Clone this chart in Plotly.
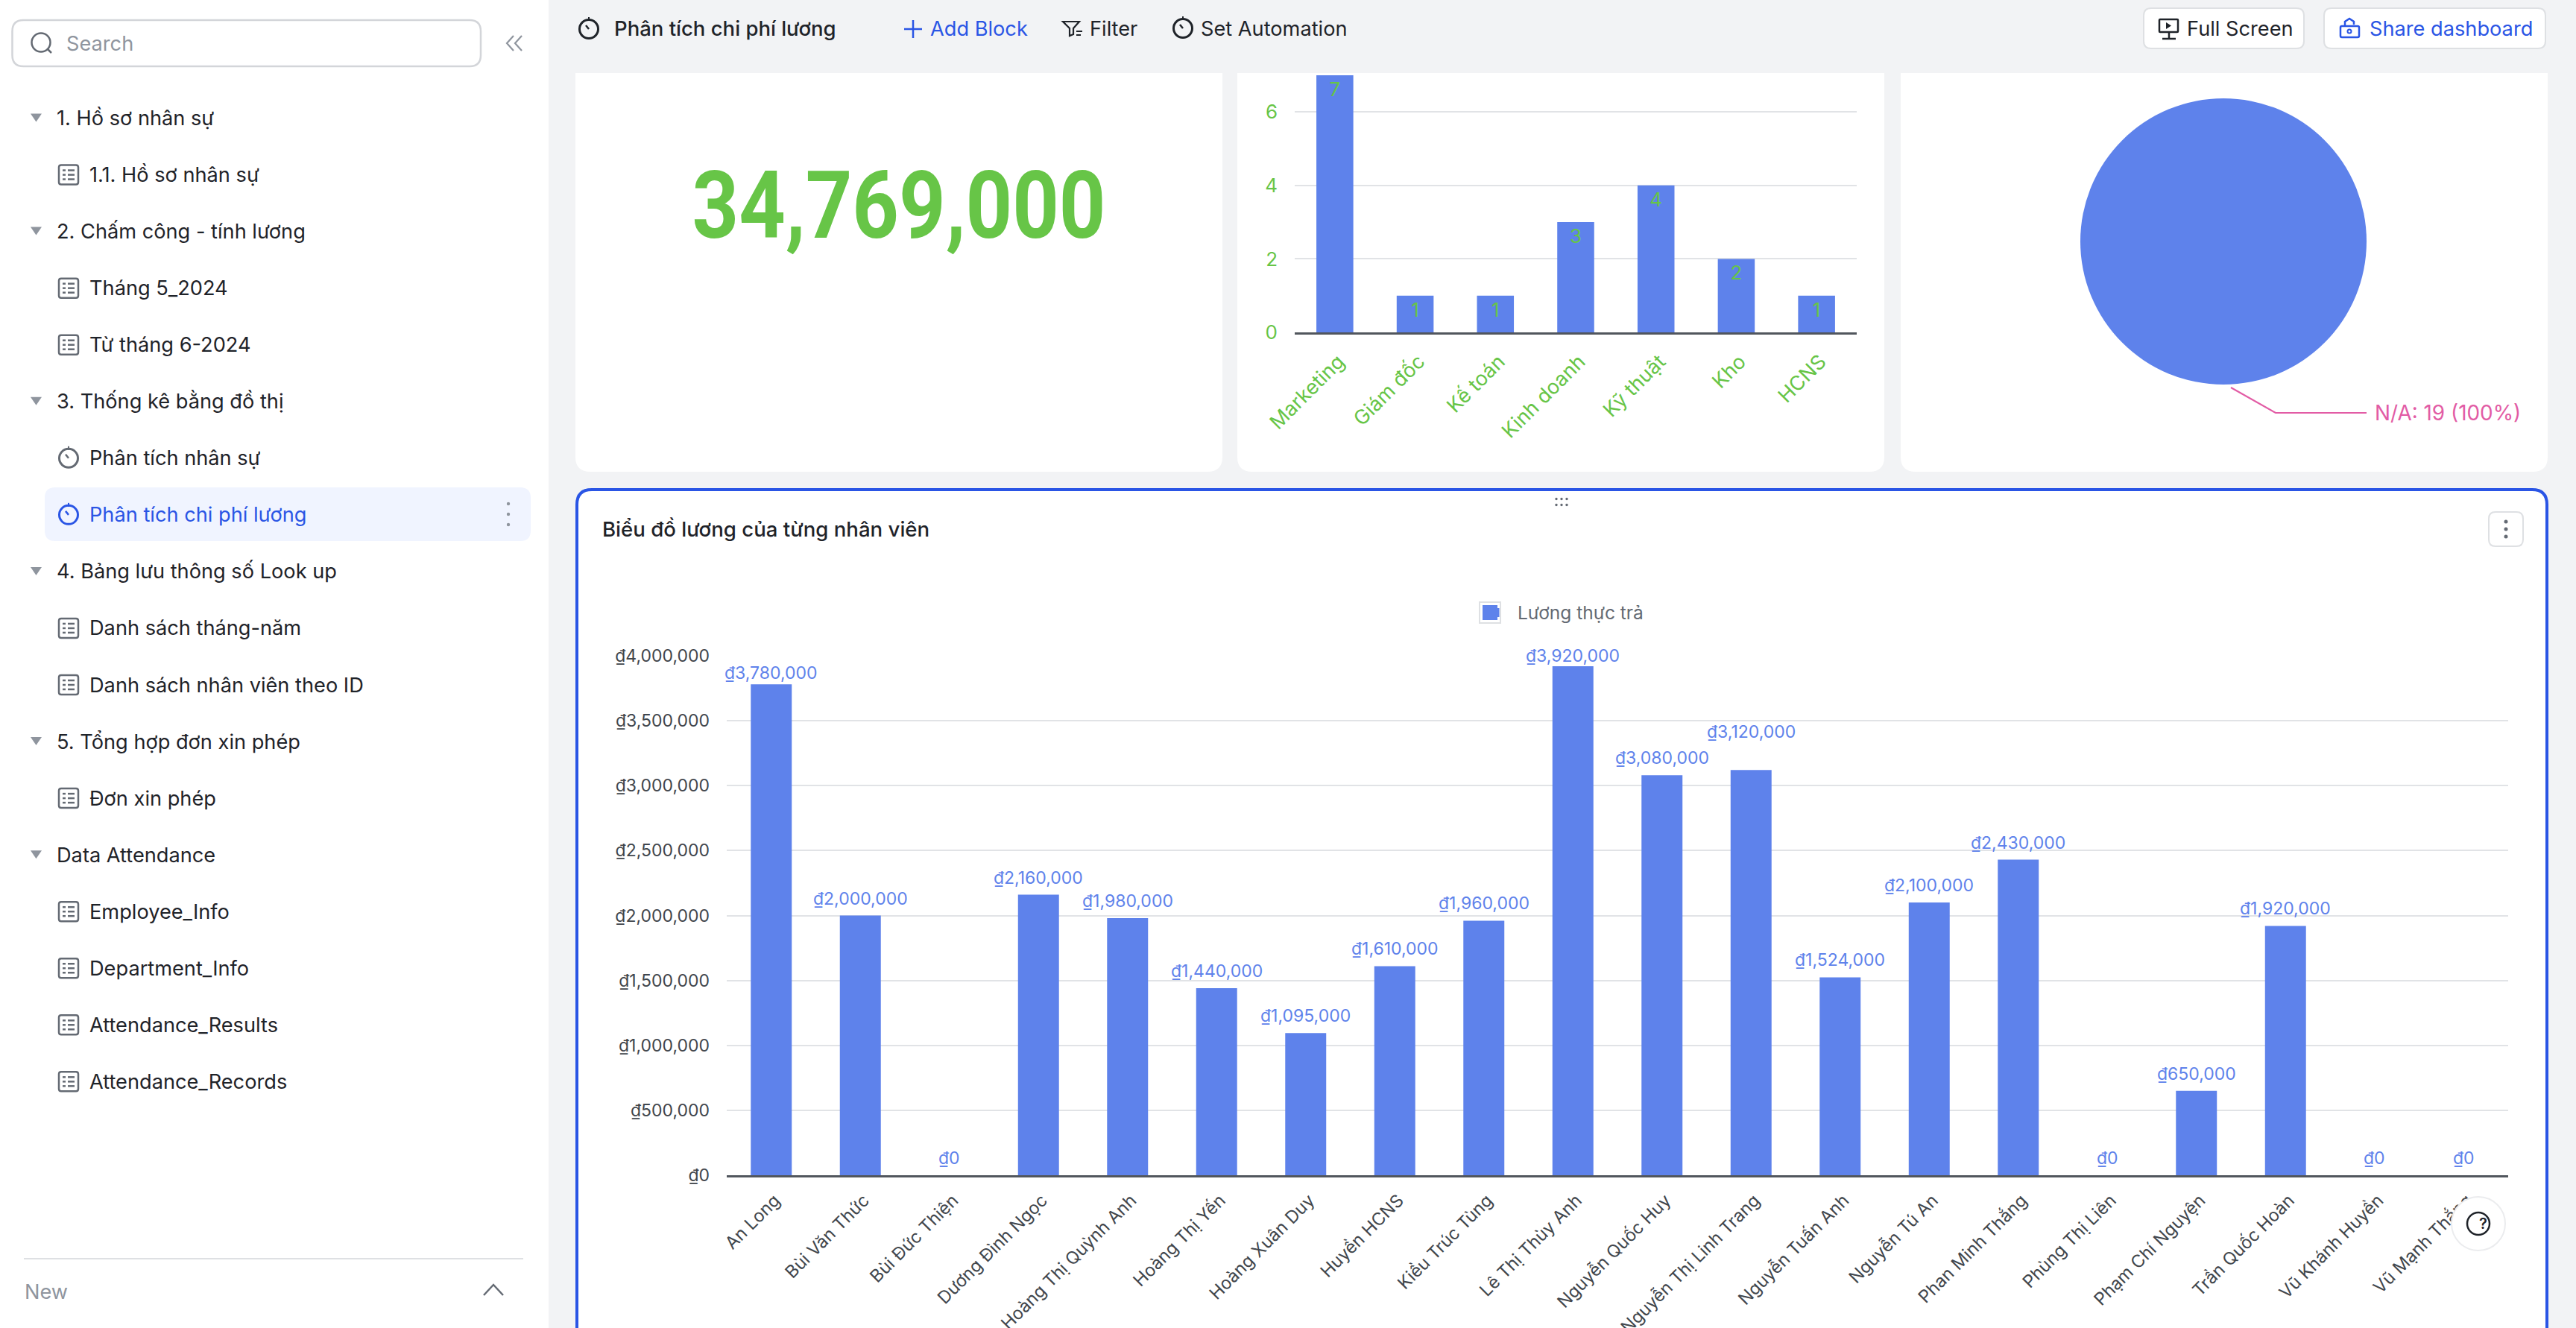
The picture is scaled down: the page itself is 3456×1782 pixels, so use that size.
import plotly.graph_objects as go

W = 3456
H = 1782

# ---- data ----
total_salary = 34769000

dept_names = ["Marketing", "Giám đốc", "Kế toán", "Kinh doanh", "Kỹ thuật", "Kho", "HCNS"]
dept_counts = [7, 1, 1, 3, 4, 2, 1]

pie_labels = ["N/A"]
pie_values = [19]
pie_percent = [100]

series_name = "Lương thực trả"
employees = ["An Long", "Bùi Văn Thức", "Bùi Đức Thiện", "Dương Đình Ngọc", "Hoàng Thị Quỳnh Anh",
             "Hoàng Thị Yến", "Hoàng Xuân Duy", "Huyền HCNS", "Kiều Trúc Tùng", "Lê Thị Thùy Anh",
             "Nguyễn Quốc Huy", "Nguyễn Thị Linh Trang", "Nguyễn Tuấn Anh", "Nguyễn Tú An",
             "Phan Minh Thắng", "Phùng Thị Liên", "Phạm Chí Nguyện", "Trần Quốc Hoàn",
             "Vũ Khánh Huyền", "Vũ Mạnh Thắng"]
salaries = [3780000, 2000000, 0, 2160000, 1980000, 1440000, 1095000, 1610000, 1960000, 3920000,
            3080000, 3120000, 1524000, 2100000, 2430000, 0, 650000, 1920000, 0, 0]

# sidebar rows: (text, kind)
sidebar_rows = [("1. Hồ sơ nhân sự", "group"), ("1.1. Hồ sơ nhân sự", "table"),
                ("2. Chấm công - tính lương", "group"), ("Tháng 5_2024", "table"),
                ("Từ tháng 6-2024", "table"), ("3. Thống kê bằng đồ thị", "group"),
                ("Phân tích nhân sự", "clock"), ("Phân tích chi phí lương", "active"),
                ("4. Bảng lưu thông số Look up", "group"), ("Danh sách tháng-năm", "table"),
                ("Danh sách nhân viên theo ID", "table"), ("5. Tổng hợp đơn xin phép", "group"),
                ("Đơn xin phép", "table"), ("Data Attendance", "group"), ("Employee_Info", "table"),
                ("Department_Info", "table"), ("Attendance_Results", "table"),
                ("Attendance_Records", "table")]

FONT = "Inter, 'Noto Sans', sans-serif"
BLUE = "#5E82EB"
ACCENT = "#2A55E5"
GREEN = "#67C547"
PINK = "#E25CA5"
INK = "#1F2329"
GRAY = "#8F959E"
ICON = "#646A73"
GRID = "#E1E3E6"
AXIS = "#51565D"
UI_SIZE = 27.2


def fx(x):
    return x / W


def fy(y):
    return 1 - y / H


shapes = []
annotations = []


def path(points, color=None, width=2.5, fill=None, close=False, layer="below"):
    d = "M" + " L".join(f"{fx(x):.5f},{fy(y):.5f}" for x, y in points)
    if close:
        d += " Z"
    shapes.append(dict(type="path", path=d, xref="paper", yref="paper", layer=layer,
                       line=dict(color=color or "rgba(0,0,0,0)", width=width if color else 0),
                       fillcolor=fill or "rgba(0,0,0,0)"))


def box(x0, y0, x1, y1, r=0, fill=None, color=None, width=2, top=True, layer="below"):
    # rounded rectangle in page pixels, top=False leaves the upper corners square
    rt = r if top else 0
    P = lambda x, y: f"{fx(x):.5f},{fy(y):.5f}"
    d = (f"M{P(x0 + rt, y0)} L{P(x1 - rt, y0)} Q{P(x1, y0)} {P(x1, y0 + rt)} "
         f"L{P(x1, y1 - r)} Q{P(x1, y1)} {P(x1 - r, y1)} L{P(x0 + r, y1)} Q{P(x0, y1)} {P(x0, y1 - r)} "
         f"L{P(x0, y0 + rt)} Q{P(x0, y0)} {P(x0 + rt, y0)} Z")
    shapes.append(dict(type="path", path=d, xref="paper", yref="paper", layer=layer,
                       line=dict(color=color or "rgba(0,0,0,0)", width=width if color else 0),
                       fillcolor=fill or "rgba(0,0,0,0)"))


def circle(cx, cy, r, fill=None, color=None, width=2.5, layer="below"):
    shapes.append(dict(type="circle", xref="paper", yref="paper", layer=layer,
                       x0=fx(cx - r), x1=fx(cx + r), y0=fy(cy + r), y1=fy(cy - r),
                       line=dict(color=color or "rgba(0,0,0,0)", width=width if color else 0),
                       fillcolor=fill or "rgba(0,0,0,0)"))


def label(x, y, text, size=UI_SIZE, color=INK, anchor="left", weight=400, family=FONT):
    annotations.append(dict(x=fx(x), y=fy(y), xref="paper", yref="paper", text=text, showarrow=False,
                            xanchor=anchor, yanchor="middle", borderpad=0,
                            font=dict(family=family, size=size, color=color, weight=weight)))


def table_icon(cx, cy):
    box(cx - 13, cy - 13, cx + 13, cy + 13, r=3, color=ICON, width=2.5)
    for dy in (-6, 0, 6):
        path([(cx - 8, cy + dy), (cx - 4, cy + dy)], color=ICON, width=2.5)
        path([(cx - 1, cy + dy), (cx + 8, cy + dy)], color=ICON, width=2.5)


def clock_icon(cx, cy, color=ICON):
    circle(cx, cy, 12.5, color=color, width=3)
    path([(cx - 4, cy - 5), (cx, cy)], color=color, width=2.5)
    path([(cx, cy - 16), (cx, cy - 11)], color=color, width=2)


# ---- page furniture ----
box(0, 0, 736, H, fill="#FFFFFF")
box(16.5, 27, 645, 89, r=15, color="#D3D5D9", width=2.5, fill="#FFFFFF")
circle(55, 57, 12.5, color=ICON, width=2.5)
path([(64, 66), (69, 71)], color=ICON, width=2.5)
label(88, 58.5, "Search", color=GRAY)
path([(689, 48), (680, 58), (689, 68)], color=GRAY, width=2.2)
path([(700, 48), (691, 58), (700, 68)], color=GRAY, width=2.2)

box(60, 654, 712, 726, r=14, fill="#F0F4FF")
for i, (text, kind) in enumerate(sidebar_rows):
    y = 158.5 + i * 76.05
    if kind == "group":
        path([(41, y - 6), (56, y - 6), (48.5, y + 5)], fill=GRAY, close=True)
        label(75, y, text)
    else:
        if kind == "table":
            table_icon(92, y)
        elif kind == "clock":
            clock_icon(92, y)
        else:
            clock_icon(92, y, color=ACCENT)
        label(119, y, text, color=ACCENT if kind == "active" else INK)
for y in (676, 690, 704):
    circle(682, y, 2.2, fill=GRAY)

path([(32, 1689), (702, 1689)], color="#DEE0E3", width=2)
label(32, 1733, "New", color=GRAY)
path([(649, 1738), (662, 1724), (675, 1738)], color=ICON, width=2.5)

# top bar
clock_icon(790, 39, color=INK)
label(823, 38.5, "Phân tích chi phí lương", size=27.5, weight=500)
path([(1225, 27), (1225, 51)], color=ACCENT, width=2.5)
path([(1213, 39), (1237, 39)], color=ACCENT, width=2.5)
label(1247, 38.5, "Add Block", color=ACCENT)
path([(1426, 29), (1448, 29), (1440, 38), (1440, 46), (1435, 48), (1435, 38)], color=INK, width=2.2, close=True)
path([(1444, 42), (1452, 42)], color=INK, width=2)
path([(1444, 47), (1450, 47)], color=INK, width=2)
label(1461, 38.5, "Filter")
clock_icon(1587, 38, color=INK)
label(1610, 38.5, "Set Automation")

box(2876, 11, 3091, 65, r=10, fill="#FFFFFF", color="#DEE0E3", width=2)
box(2897, 26, 2922, 43, r=1, color=INK, width=2.5)
path([(2906, 30), (2906, 39), (2913, 34.5)], fill=INK, close=True)
path([(2910, 43), (2910, 52)], color=INK, width=2.5)
path([(2901, 52), (2919, 52)], color=INK, width=2.5)
label(2933, 38.5, "Full Screen")

box(3118, 11, 3415, 65, r=10, fill="#FFFFFF", color="#DEE0E3", width=2)
box(3140, 35, 3165, 50, r=2, color=ACCENT, width=2.5)
path([(3146, 35), (3146, 29), (3152, 25), (3158, 29), (3158, 33)], color=ACCENT, width=2.5)
circle(3152, 42, 2.5, color=ACCENT, width=2)
label(3178, 38.5, "Share dashboard", color=ACCENT)

# cards
for x0, x1 in [(772, 1640), (1660, 2528), (2550, 3418)]:
    box(x0, 98, x1, 633, r=20, fill="#FFFFFF", top=False)
box(774, 657, 3417, H + 60, r=20, fill="#FFFFFF", color=ACCENT, width=4)

label(807, 710, "Biểu đồ lương của từng nhân viên", size=27.6, weight=500)
for dx in (-7, 0, 7):
    for dy in (-4, 4):
        circle(2095 + dx, 673.5 + dy, 1.7, fill=ICON)
box(3339, 687, 3385, 733, r=9, color="#DEE0E3", width=2, fill="#FFFFFF")
for y in (700, 710, 720):
    circle(3362, y, 2.5, fill=ICON)

# big legend swatch drawn behind the real legend entry
box(1985, 808, 2013, 836, color="#DEE0E3", width=2, fill="#FFFFFF")
box(1989, 812, 2009, 832, fill=BLUE)

# pie leader line and label
path([(2993, 520), (3053, 554), (3175, 554)], color=PINK, width=2.2)
label(3185, 554, f"{pie_labels[0]}: {pie_values[0]} ({pie_percent[0]}%)", size=27.9, color=PINK)

# help bubble sits above the axis labels
circle(3325, 1642, 36, fill="#FFFFFF", color="#EBECEE", width=2, layer="above")
circle(3325, 1642, 15, color=INK, width=2.5, layer="above")
label(3325, 1642, "?", size=20, weight=600)

# value labels float above the bars, the dashboard nudges three of them
label_lift = {0: 15, 9: 14, 11: 51}
for i, (name, value) in enumerate(zip(employees, salaries)):
    annotations.append(dict(x=name, y=value, xref="x", yref="y", text=f"₫{value:,}", showarrow=False,
                            xanchor="center", yanchor="middle", yshift=label_lift.get(i, 23),
                            font=dict(family=FONT, size=23, color=BLUE)))

# ---- charts ----
fig = go.Figure()

fig.add_trace(go.Indicator(mode="number", value=total_salary,
                           number=dict(valueformat=",d",
                                       font=dict(family="Roboto, sans-serif", size=127, color=GREEN,
                                                 weight=700)),
                           domain=dict(x=[fx(772), fx(1640)], y=[fy(400), fy(150)])))

fig.add_trace(go.Bar(x=dept_names, y=dept_counts, xaxis="x2", yaxis="y2", marker_color=BLUE,
                     marker_line_width=0, text=dept_counts, textposition="inside",
                     insidetextanchor="end", constraintext="none", textangle=0,
                     textfont=dict(family=FONT, size=26, color=GREEN), showlegend=False,
                     width=0.46))

fig.add_trace(go.Pie(labels=pie_labels, values=pie_values, textinfo="none", sort=False,
                     marker=dict(colors=[BLUE], line=dict(width=0)), showlegend=False,
                     domain=dict(x=[fx(2983 - 192), fx(2983 + 192)], y=[fy(516), fy(132)])))

fig.add_trace(go.Bar(x=employees, y=salaries, name=series_name, marker_color=BLUE, marker_line_width=0,
                     width=0.46))

fig.update_layout(
    width=W, height=H, autosize=False,
    margin=dict(l=0, r=0, t=0, b=0),
    paper_bgcolor="#F2F3F5", plot_bgcolor="rgba(0,0,0,0)",
    font=dict(family=FONT),
    shapes=shapes, annotations=annotations,
    showlegend=True,
    legend=dict(x=fx(1975), y=fy(822), xanchor="left", yanchor="middle", bgcolor="rgba(0,0,0,0)",
                itemwidth=51, font=dict(family=FONT, size=24.5, color="#646A73")),
    xaxis=dict(domain=[fx(975), fx(3365)], anchor="y", range=[-0.5, 19.5], tickangle=-45, showgrid=False,
               showline=True, linecolor=AXIS, linewidth=2.5, ticks="", ticklabelstandoff=8,
               ticklabelshift=5,
               tickfont=dict(family=FONT, size=23.5, color="#41464C"), automargin=False),
    yaxis=dict(domain=[fy(1577), fy(880)], anchor="x", range=[0, 4000000], dtick=500000,
               tickprefix="₫", tickformat=",d", gridcolor=GRID, gridwidth=2, zeroline=False,
               ticks="", ticklabelstandoff=22, automargin=False,
               tickfont=dict(family=FONT, size=23, color="#41464C")),
    xaxis2=dict(domain=[fx(1737), fx(2491)], anchor="y2", range=[-0.5, 6.5], tickangle=-45, showgrid=False,
                showline=True, linecolor=AXIS, linewidth=2.5, ticks="", ticklabelstandoff=10,
                ticklabelshift=5,
                tickfont=dict(family=FONT, size=27, color=GREEN), automargin=False),
    yaxis2=dict(domain=[fy(446), fy(98)], anchor="x2", range=[0, 7.06], dtick=2,
                gridcolor=GRID, gridwidth=2, zeroline=False, ticks="", ticklabelstandoff=22,
                automargin=False, tickfont=dict(family=FONT, size=26, color=GREEN)),
)

# no condensed bold installed, so squeeze the big number to the width it has on the dashboard
post = """
document.body.style.margin='0';
document.documentElement.style.overflow='hidden';
document.querySelectorAll('.indicatorlayer text').forEach(function(t){
  t.setAttribute('textLength','555');
  t.setAttribute('lengthAdjust','spacingAndGlyphs');
});
"""

fig.write_html("out.html", config=dict(displayModeBar=False), post_script=post)
